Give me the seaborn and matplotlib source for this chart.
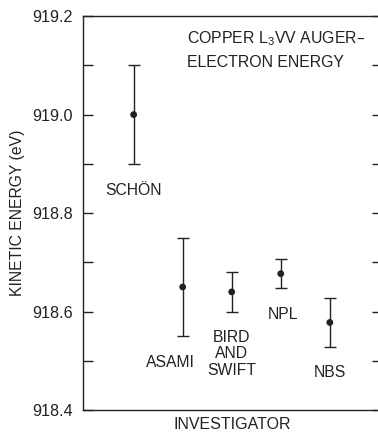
import matplotlib
matplotlib.use("Agg")
import matplotlib.pyplot as plt
import seaborn as sns
import pandas as pd
from matplotlib.ticker import MultipleLocator

# values
investigators = ["SCHÖN", "ASAMI", "BIRD\nAND\nSWIFT", "NPL", "NBS"]
energy = [919.00, 918.65, 918.64, 918.677, 918.578]
uncertainty = [0.10, 0.10, 0.04, 0.03, 0.05]

sns.set_style("ticks")
plt.rcParams["font.family"] = ["Liberation Sans", "DejaVu Sans"]
plt.rcParams["mathtext.default"] = "regular"

df = pd.DataFrame({"pos": range(len(investigators)), "energy": energy,
                   "err": uncertainty, "name": investigators})

fig = plt.figure(figsize=(3.78, 4.34), dpi=100)
ax = fig.add_axes([0.22, 0.055, 0.79, 0.908])

ax.errorbar(df["pos"], df["energy"], yerr=df["err"], fmt="none",
            ecolor="#222222", elinewidth=1.0, capsize=4, capthick=1.0)
sns.scatterplot(data=df, x="pos", y="energy", color="#222222", s=24,
                edgecolor="none", ax=ax, zorder=3)

# label positions relative to each point (data units)
offsets = [(0, -0.155), (-0.245, -0.154), (0, -0.126), (0.04, -0.082), (0, -0.101)]
for (x, y, name), (dx, dy) in zip(
        zip(df["pos"], df["energy"], df["name"]), offsets):
    ax.text(x + dx, y + dy, name, ha="center", va="center", fontsize=11.3,
            linespacing=1.15, color="#222222")

ax.text(0.348, 0.915, "COPPER L$_3$VV AUGER–\nELECTRON ENERGY",
        transform=ax.transAxes, ha="left", va="center", fontsize=11.4,
        linespacing=1.6, color="#222222")

ax.set_xlim(-1.03, 5.06)
ax.set_ylim(918.4, 919.2)
ax.yaxis.set_major_locator(MultipleLocator(0.2))
ax.yaxis.set_minor_locator(MultipleLocator(0.1))
ax.yaxis.set_major_formatter(matplotlib.ticker.FormatStrFormatter("%.1f"))
ax.set_xticks([])
ax.tick_params(axis="y", which="both", direction="in", length=7.5, width=1,
               right=True, labelsize=11.6, colors="#222222", pad=7.5)
for sp in ax.spines.values():
    sp.set_visible(True)
    sp.set_linewidth(1.0)
    sp.set_color("#222222")

ax.set_ylabel("KINETIC ENERGY (eV)", fontsize=11.3, color="#222222", labelpad=5)
ax.set_xlabel("INVESTIGATOR", fontsize=11.5, color="#222222", labelpad=5)

fig.savefig("out.png", dpi=100)
